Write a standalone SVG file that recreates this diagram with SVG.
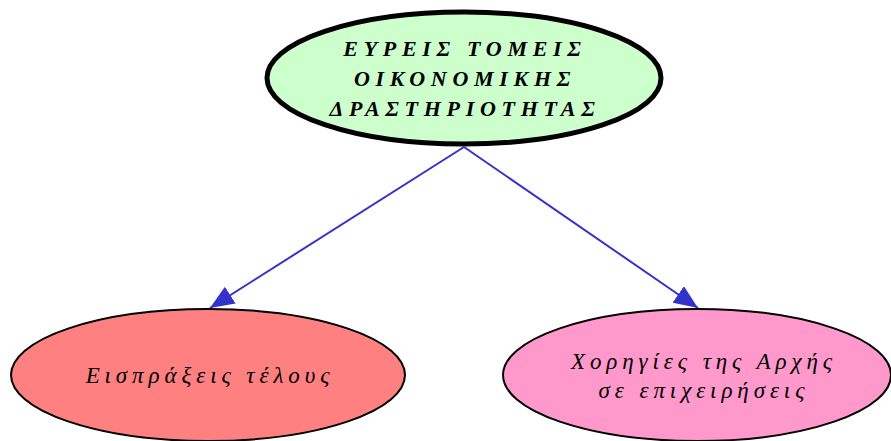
<svg xmlns="http://www.w3.org/2000/svg" width="891" height="441" viewBox="0 0 891 441">
<style>
.t{font-family:"Liberation Serif","DejaVu Serif",serif;font-style:italic;fill:#000;text-anchor:middle}
.b{font-weight:bold;font-size:22px;letter-spacing:5.7px}
.n{font-size:23px;letter-spacing:4.9px}
.e{stroke:#3333cc;stroke-width:2;fill:none}
</style>
<defs>
<marker id="ah2" viewBox="0 0 24 20" refX="24" refY="10" markerWidth="24" markerHeight="20" markerUnits="userSpaceOnUse" orient="auto">
<path d="M0,0 L24,10 L0,20 z" fill="#3333cc"/>
</marker>
</defs>
<g id="edges">
<path class="e" d="M464,147 L210,308" marker-end="url(#ah2)"/>
<path class="e" d="M464,147 L698,308" marker-end="url(#ah2)"/>
</g>
<g id="root">
<ellipse cx="464" cy="78" rx="197" ry="66" fill="#ccffcc" stroke="#000" stroke-width="5"/>
<text class="t b" x="465" y="56">ΕΥΡΕΙΣ ΤΟΜΕΙΣ</text>
<text class="t b" x="465" y="86">ΟΙΚΟΝΟΜΙΚΗΣ</text>
<text class="t b" x="465" y="116">ΔΡΑΣΤΗΡΙΟΤΗΤΑΣ</text>
</g>
<g id="left">
<ellipse cx="208" cy="375" rx="197" ry="66" fill="#ff8080" stroke="#000" stroke-width="2"/>
<text class="t n" x="210" y="383">Εισπράξεις τέλους</text>
</g>
<g id="right">
<ellipse cx="697" cy="375" rx="194" ry="66" fill="#ff99cc" stroke="#000" stroke-width="2"/>
<text class="t n" x="704" y="369">Χορηγίες της Αρχής</text>
<text class="t n" x="704" y="398">σε επιχειρήσεις</text>
</g>
</svg>
